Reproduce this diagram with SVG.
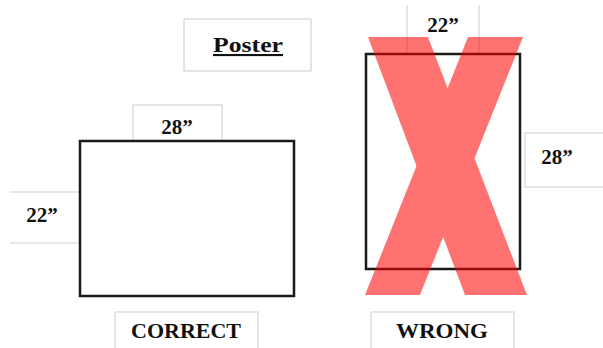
<svg xmlns="http://www.w3.org/2000/svg" width="603" height="348" viewBox="0 0 603 348">
<style>
.lbl{fill:#fff;stroke:#d2d2d2;stroke-width:1.2}
.t{font-family:"Liberation Serif","Times New Roman",serif;font-weight:bold;font-size:21px;fill:#111;text-anchor:middle}
.frame{fill:none;stroke:#1a1a1a;stroke-width:2.5}
.x{fill:#ff0000}
</style>
<rect width="603" height="348" fill="#fff"/>
<g id="poster">
<rect class="lbl" x="184" y="19" width="127" height="52"/>
<text class="t" x="248" y="52" font-size="22" text-decoration="underline" textLength="70" lengthAdjust="spacingAndGlyphs">Poster</text>
</g>
<g id="correct-width">
<rect class="lbl" x="133" y="105" width="89" height="36"/>
<text class="t" x="177" y="134">28”</text>
</g>
<g id="correct-height">
<path class="lbl" d="M10 192 H80 M10 243 H80" fill="none"/>
<text class="t" x="42" y="222">22”</text>
</g>
<g id="correct-frame">
<rect class="frame" x="80" y="141" width="214" height="155"/>
</g>
<g id="wrong-width">
<path class="lbl" d="M407 5 V54 M479 5 V54" fill="none"/>
<text class="t" x="443" y="32">22”</text>
</g>
<g id="wrong-height">
<rect class="lbl" x="525" y="133" width="82" height="54"/>
<text class="t" x="557" y="164">28”</text>
</g>
<g id="wrong-frame">
<rect class="frame" x="366" y="54" width="154" height="215"/>
</g>
<g id="cross" opacity="0.55">
<polygon class="x" points="368,37 428,37 527,295 465,295"/>
<polygon class="x" points="468,37 523,37 420,295 365,295"/>
</g>
<g id="correct-label">
<path class="lbl" d="M115 352 V312 H258 V352" fill="none"/>
<text class="t" x="186" y="338" textLength="110" lengthAdjust="spacingAndGlyphs">CORRECT</text>
</g>
<g id="wrong-label">
<path class="lbl" d="M371 352 V312 H514 V352" fill="none"/>
<text class="t" x="442" y="338" textLength="92" lengthAdjust="spacingAndGlyphs">WRONG</text>
</g>
<g id="connectors"/>
</svg>
